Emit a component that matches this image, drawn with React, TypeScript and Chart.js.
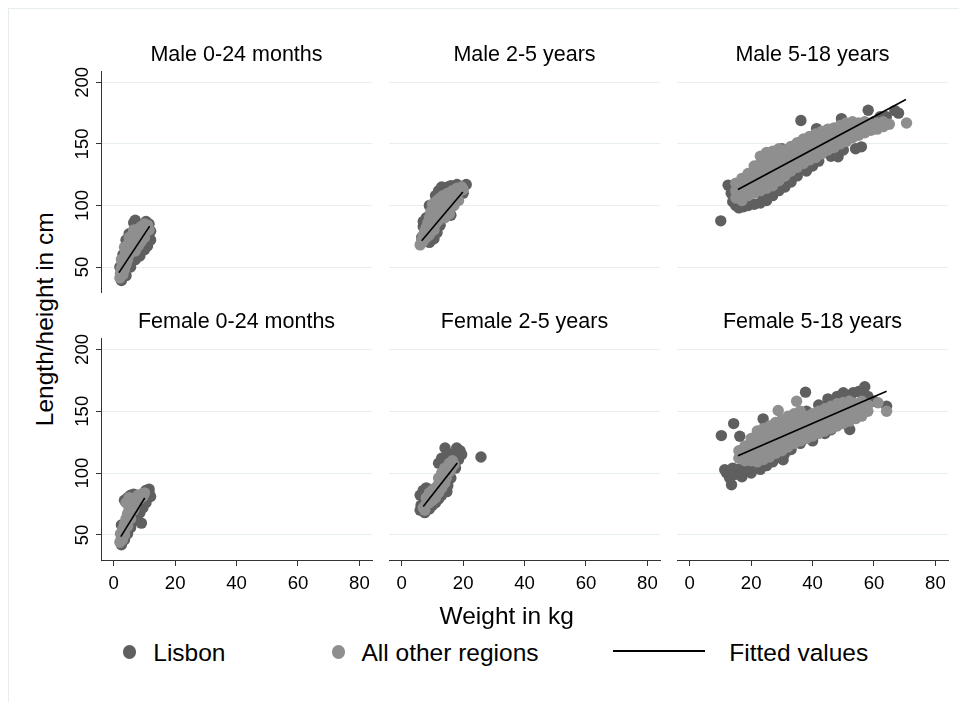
import React, { useEffect, useRef } from 'react';
import { Chart, registerables } from 'chart.js';

Chart.register(...registerables);

const FONT = "'Liberation Sans', Arial, Helvetica, sans-serif";

// ---------- text ----------
const panelTitles = [
  'Male 0-24 months',
  'Male 2-5 years',
  'Male 5-18 years',
  'Female 0-24 months',
  'Female 2-5 years',
  'Female 5-18 years',
];
const seriesLabels = ['Lisbon', 'All other regions', 'Fitted values'];
const xAxisTitle = 'Weight in kg';
const yAxisTitle = 'Length/height in cm';
const xTickValues = [0, 20, 40, 60, 80];
const yTickValues = [50, 100, 150, 200];
const xMin = -4.15;
const xMax = 84.1;
const yMin = 29.7;
const yMax = 209.2;

// ---------- data: [weight kg, length/height cm] ----------
const lisbonMale0to24 = [
  [2.5, 39], [2, 50], [3, 60], [4, 43], [4, 72], [5, 77], [5.5, 50], [6.5, 86], [7, 88], [7, 56],
  [8.5, 59], [9, 84], [10, 64], [10.5, 87], [11, 67], [11.5, 85], [12, 72], [12, 79], [3.5, 47], [6, 62],
];
const otherMale0to24 = [
  [2, 41], [2.2, 45], [2.5, 49], [2.8, 53], [3, 44], [3.2, 57], [3.5, 48], [3.8, 61], [4, 52], [4.2, 65],
  [4.5, 56], [4.8, 69], [5, 60], [5.3, 72], [5.5, 64], [6, 76], [6, 67], [6.5, 71], [7, 78], [7, 63],
  [7.5, 74], [8, 81], [8, 67], [8.5, 77], [9, 83], [9, 71], [9.5, 80], [10, 85], [10, 74], [10.5, 82],
  [11, 84], [11.5, 80], [5, 74], [3.5, 66], [6.5, 80], [2.5, 56], [4.5, 62], [8, 72],
];
const fitMale0to24 = [[1.7, 45.4], [11.7, 83.2]];

const lisbonMale2to5 = [
  [6.5, 74], [7, 83], [7, 87], [8, 90], [9, 70], [10.5, 73], [11.5, 78], [12, 112], [13, 115], [14, 113],
  [15, 115], [16, 116], [17, 115], [18, 117], [21, 117], [20, 110], [16, 92], [9, 100], [11, 108], [12.5, 84],
];
const otherMale2to5 = [
  [6, 68], [6.5, 72], [7, 76], [7.5, 79], [8, 82], [8.5, 86], [9, 90], [9.5, 95], [10, 101], [10.3, 98],
  [10.5, 92], [11, 96], [11.5, 104], [12, 100], [12.5, 106], [13, 103], [13.5, 108], [14, 99], [14.5, 104], [15, 110],
  [15.5, 93], [16, 106], [16.5, 112], [17, 100], [17.5, 109], [18, 114], [18.5, 104], [19, 112], [19.5, 115], [20, 113],
  [12, 88], [13, 94], [10.5, 80], [9, 76], [8, 74], [7, 71], [11, 85], [14, 90],
];
const fitMale2to5 = [[6.5, 71.3], [19.9, 111]];

const lisbonMale5to18 = [
  [10.1, 87.5], [12.5, 116.5], [13.5, 110], [14, 103], [15, 100], [16, 98], [17.5, 99], [19, 100], [21, 101], [23, 102],
  [25, 104], [24, 108], [27, 108], [29, 112], [31, 115], [33, 119], [35, 124], [34, 129], [38, 128], [40, 132],
  [42, 136], [46, 140], [48.3, 139.5], [50, 145], [54, 146], [55.9, 147.6], [36.2, 169], [58.1, 177.3], [62, 172], [66.8, 177],
  [68, 175], [64, 172], [49.4, 170.5], [41.3, 162.4], [30, 146], [22, 130], [20, 125], [26, 140], [56, 165], [60, 168],
];
const otherMale5to18 = [
  [15, 106], [15, 112], [15, 118], [17, 104], [17, 110], [17, 116], [17, 122], [19, 108], [19, 114], [19, 120],
  [19, 126], [21, 110], [21, 117], [21, 124], [21, 132], [23, 112], [23, 119], [23, 126], [23, 134], [23, 140],
  [25, 114], [25, 121], [25, 128], [25, 136], [25, 143], [27, 116], [27, 124], [27, 131], [27, 138], [27, 144],
  [29, 120], [29, 127], [29, 134], [29, 141], [29, 146], [31, 124], [31, 131], [31, 138], [31, 145], [33, 128],
  [33, 135], [33, 142], [33, 148], [35, 131], [35, 138], [35, 145], [35, 151], [37, 134], [37, 141], [37, 148],
  [37, 154], [39, 137], [39, 144], [39, 150], [39, 156], [41, 139], [41, 146], [41, 152], [41, 158], [43, 142],
  [43, 149], [43, 155], [43, 160], [45, 145], [45, 151], [45, 157], [45, 162], [47, 147], [47, 153], [47, 159],
  [47, 163], [49, 150], [49, 156], [49, 161], [49, 165], [51, 152], [51, 158], [51, 163], [51, 167], [53, 155],
  [53, 160], [53, 165], [53, 168], [55, 157], [55, 162], [55, 167], [57, 159], [57, 164], [57, 168], [59, 161],
  [59, 166], [61, 162], [61, 167], [63, 164], [63, 168], [65, 166], [70.6, 167],
];
const fitMale5to18 = [[15.7, 113], [70.4, 186]];

const lisbonFemale0to24 = [
  [2.5, 42], [3.5, 46], [4.5, 51], [5.5, 56], [6.5, 61], [7.5, 65], [8.5, 68], [9, 59.5], [9.5, 72], [10.5, 76],
  [11, 80], [11.5, 84], [12, 81], [11.5, 87], [10.5, 86], [4.5, 80], [5.5, 82], [6.5, 83], [3.5, 78], [2.5, 58],
];
const otherFemale0to24 = [
  [2, 44], [2.5, 47], [2.2, 51], [3, 50], [3, 55], [3.5, 53], [3.5, 59], [4, 57], [4, 63], [4.5, 61],
  [4.5, 67], [5, 65], [5, 71], [5.5, 69], [5.5, 75], [6, 73], [6, 79], [6.5, 77], [7, 80], [7.5, 78],
  [8, 82], [8.5, 79], [9, 83], [9.5, 81], [10, 84], [7, 74], [6.5, 70], [5.5, 63], [4.5, 57], [3.5, 50],
  [2.8, 46], [4, 76], [5, 80],
];
const fitFemale0to24 = [[2.3, 48.6], [10.1, 79.8]];

const lisbonFemale2to5 = [
  [6, 70], [6.3, 74], [6, 82], [7, 86], [7.5, 68], [8, 88], [9, 71], [10, 74], [11, 76], [12, 79],
  [13, 82], [14.7, 85], [15, 90], [14, 112], [14.1, 120.3], [15, 116], [16, 114], [17.9, 120.3], [19, 118], [19.5, 115],
  [18.5, 111], [17.5, 104], [25.8, 113], [13, 112], [12, 108], [16, 96],
];
const otherFemale2to5 = [
  [7, 72], [8, 75], [8.5, 79], [9.5, 78], [10, 82], [10.5, 86], [11, 80], [11.5, 89], [12, 84], [12.5, 92],
  [13, 88], [13.5, 96], [14, 92], [14.5, 100], [15, 104], [15.5, 108], [16, 103], [17, 107], [16.5, 110], [9, 84],
  [12, 96], [13, 100], [8, 80], [9, 76], [10, 78], [11, 88], [12, 91], [14, 104], [14.5, 96], [15.5, 101],
  [16, 108], [11.5, 84], [10, 86], [7.5, 70],
];
const fitFemale2to5 = [[7, 73], [18.1, 108.1]];

const lisbonFemale5to18 = [
  [10.3, 130.3], [14.3, 140], [13.6, 90.5], [11.4, 102.7], [16.3, 129.7], [23.9, 143.8], [37.7, 165.4], [52.1, 135.2], [57, 169.8], [53.2, 164.9],
  [30.4, 110.8], [64.1, 154], [12, 100], [13, 96], [14, 104], [15, 99], [16, 103], [17, 97], [18, 101], [19, 105],
  [20, 100], [21, 104], [23, 103], [25, 106], [27, 109], [29, 113], [31, 116], [33, 119], [22, 132], [26, 135],
  [30, 140], [34, 145], [38, 150], [42, 155], [45, 160], [48, 162], [50, 165], [55, 166], [58, 162], [60, 158],
  [40, 126], [44, 132], [46, 135], [36, 124], [24, 126], [18, 118],
];
const otherFemale5to18 = [
  [16, 112], [16, 118], [18, 110], [18, 116], [18, 122], [20, 110], [20, 116], [20, 122], [20, 128], [22, 109],
  [22, 115], [22, 121], [22, 127], [22, 134], [24, 111], [24, 117], [24, 123], [24, 129], [24, 136], [26, 113],
  [26, 119], [26, 125], [26, 131], [26, 138], [28, 116], [28, 122], [28, 128], [28, 134], [28, 141], [28.8, 150.6],
  [30, 118], [30, 124], [30, 130], [30, 136], [30, 143], [32, 121], [32, 127], [32, 133], [32, 139], [32, 146],
  [34, 124], [34, 130], [34, 136], [34, 142], [34, 148], [34.8, 158], [36, 126], [36, 132], [36, 138], [36, 144],
  [36, 150], [38, 128], [38, 134], [38, 140], [38, 146], [40, 130], [40, 136], [40, 142], [40, 148], [42, 132],
  [42, 138], [42, 144], [42, 150], [44, 134], [44, 140], [44, 146], [44, 152], [46, 136], [46, 142], [46, 148],
  [46, 154], [48, 138], [48, 144], [48, 150], [48, 156], [50, 140], [50, 146], [50, 152], [50, 157], [52, 142],
  [52, 148], [52, 154], [52, 158], [54, 144], [54, 150], [54, 156], [56, 146], [56, 152], [56, 158], [58, 150],
  [58, 155], [61.3, 156.8], [64.1, 150],
];
const fitFemale5to18 = [[15.7, 114], [64.1, 166.2]];

const lisbonByPanel = [lisbonMale0to24, lisbonMale2to5, lisbonMale5to18, lisbonFemale0to24, lisbonFemale2to5, lisbonFemale5to18];
const otherByPanel = [otherMale0to24, otherMale2to5, otherMale5to18, otherFemale0to24, otherFemale2to5, otherFemale5to18];
const fitByPanel = [fitMale0to24, fitMale2to5, fitMale5to18, fitFemale0to24, fitFemale2to5, fitFemale5to18];

// ---------- styling / layout ----------
const LISBON_COLOR = '#5f5f5f';
const OTHER_COLOR = '#8f8f8f';
const GRID_COLOR = '#e6eef2';
const AXIS_COLOR = '#333333';
const OFFSET = 8; // root div sits at the body margin
const PLOT_LEFT = [101, 389, 677];
const PLOT_W = 271;
const PLOT_TOP = [71, 338];
const PLOT_BOTTOM = [292, 560];
const PAD = { left: 40, right: 20, top: 40, bottom: 40 };
const TITLE_SIZE = 21.5;
const TICK_SIZE = 18.6;
const BIG_SIZE = 24.5;
const POINT_R = 5.7;

const rotatedYLabels = {
  id: 'rotatedYLabels',
  afterDraw(chart: any) {
    const s = chart.scales.y;
    const ctx = chart.ctx;
    ctx.save();
    ctx.font = `${TICK_SIZE}px ${FONT}`;
    ctx.fillStyle = '#000';
    ctx.textAlign = 'center';
    ctx.textBaseline = 'alphabetic';
    s.ticks.forEach((t: any) => {
      const y = s.getPixelForValue(t.value);
      ctx.save();
      ctx.translate(s.left - 12.7, y);
      ctx.rotate(-Math.PI / 2);
      ctx.fillText(String(t.value), 0, 0);
      ctx.restore();
    });
    ctx.restore();
  },
};

function Panel({ idx }: { idx: number }) {
  const ref = useRef<HTMLCanvasElement>(null);
  const col = idx % 3;
  const row = Math.floor(idx / 3);
  const w = PLOT_W + PAD.left + PAD.right;
  const h = PLOT_BOTTOM[row] - PLOT_TOP[row] + PAD.top + PAD.bottom;

  useEffect(() => {
    const titleLine = TITLE_SIZE * 1.2;
    const showX = row === 1;
    const chart = new Chart(ref.current as HTMLCanvasElement, {
      type: 'scatter',
      data: {
        datasets: [
          {
            label: seriesLabels[2],
            type: 'line',
            data: fitByPanel[idx] as any,
            borderColor: '#000',
            borderWidth: 1.6,
            pointRadius: 0,
            showLine: true,
            fill: false,
            order: 0,
          } as any,
          {
            label: seriesLabels[1],
            data: otherByPanel[idx] as any,
            backgroundColor: OTHER_COLOR,
            pointRadius: POINT_R,
            pointBorderWidth: 0,
            order: 1,
          },
          {
            label: seriesLabels[0],
            data: lisbonByPanel[idx] as any,
            backgroundColor: LISBON_COLOR,
            pointRadius: POINT_R,
            pointBorderWidth: 0,
            order: 2,
          },
        ],
      },
      options: {
        responsive: false,
        animation: false,
        devicePixelRatio: 1,
        layout: { padding: { left: PAD.left, right: PAD.right, top: 0, bottom: showX ? 0 : PAD.bottom } },
        plugins: {
          legend: { display: false },
          tooltip: { enabled: false },
          title: {
            display: true,
            text: panelTitles[idx],
            fullSize: false,
            color: '#000',
            font: { size: TITLE_SIZE, family: FONT, weight: 'normal', lineHeight: 1.2 },
            padding: { top: PAD.top - titleLine - 2.6, bottom: 2.6 },
          },
        },
        scales: {
          x: {
            type: 'linear',
            min: xMin,
            max: xMax,
            display: showX,
            position: 'bottom',
            afterFit: (s: any) => { s.height = showX ? PAD.bottom : 0; },
            afterBuildTicks: (s: any) => { s.ticks = xTickValues.map((v) => ({ value: v })); },
            grid: { display: true, drawOnChartArea: false, drawTicks: true, tickLength: 6, tickColor: AXIS_COLOR, tickWidth: 1 },
            border: { display: true, color: AXIS_COLOR, width: 1 },
            ticks: { color: '#000', font: { size: TICK_SIZE, family: FONT }, padding: 7, maxRotation: 0, minRotation: 0, autoSkip: false },
          },
          y: {
            type: 'linear',
            min: yMin,
            max: yMax,
            position: 'left',
            afterFit: (s: any) => { s.width = 0; },
            afterBuildTicks: (s: any) => { s.ticks = yTickValues.map((v) => ({ value: v })); },
            grid: { color: GRID_COLOR, lineWidth: 1, drawTicks: col === 0, tickLength: 5, tickColor: AXIS_COLOR, tickWidth: 1 },
            border: { display: col === 0, color: AXIS_COLOR, width: 1 },
            ticks: { display: false },
          },
        },
      } as any,
      plugins: col === 0 ? [rotatedYLabels] : [],
    });
    return () => chart.destroy();
  }, [idx]);

  return (
    <canvas
      ref={ref}
      width={w}
      height={h}
      style={{
        position: 'absolute',
        left: PLOT_LEFT[col] - PAD.left - OFFSET,
        top: PLOT_TOP[row] - PAD.top - OFFSET,
        width: w,
        height: h,
      }}
    />
  );
}

const textStyle: React.CSSProperties = {
  position: 'absolute',
  fontFamily: FONT,
  fontSize: BIG_SIZE,
  lineHeight: `${BIG_SIZE}px`,
  color: '#000',
  whiteSpace: 'nowrap',
};

export default function App() {
  const baselineShift = 0.8465 * BIG_SIZE;
  return (
    <div style={{ position: 'relative', width: 951, height: 694, overflow: 'hidden', background: '#fff' }}>
      <div
        style={{
          position: 'absolute', left: 0, top: 0, width: 951, height: 694, boxSizing: 'border-box',
          borderLeft: '1px solid #e6edf0', borderTop: '1px solid #e6edf0',
        }}
      />
      {[0, 1, 2, 3, 4, 5].map((i) => <Panel key={i} idx={i} />)}

      {/* y axis title */}
      <div
        style={{
          ...textStyle,
          left: 44.8 - 150 - OFFSET,
          top: 319 - BIG_SIZE / 2 - OFFSET,
          width: 300,
          height: BIG_SIZE,
          textAlign: 'center',
          transform: 'rotate(-90deg)',
        }}
      >
        {yAxisTitle}
      </div>

      {/* x axis title */}
      <div style={{ ...textStyle, left: 506.7 - 150 - OFFSET, top: 624.3 - baselineShift - OFFSET, width: 300, textAlign: 'center' }}>
        {xAxisTitle}
      </div>

      {/* legend */}
      <div style={{ position: 'absolute', left: 129.3 - 6.7 - OFFSET, top: 652 - 6.7 - OFFSET, width: 13.4, height: 13.4, borderRadius: '50%', background: LISBON_COLOR }} />
      <div style={{ ...textStyle, left: 153.3 - OFFSET, top: 661.7 - baselineShift - OFFSET }}>{seriesLabels[0]}</div>

      <div style={{ position: 'absolute', left: 338.3 - 6.7 - OFFSET, top: 652 - 6.7 - OFFSET, width: 13.4, height: 13.4, borderRadius: '50%', background: OTHER_COLOR }} />
      <div style={{ ...textStyle, left: 361.5 - OFFSET, top: 661.7 - baselineShift - OFFSET }}>{seriesLabels[1]}</div>

      <div style={{ position: 'absolute', left: 613.3 - OFFSET, top: 649.7 - OFFSET, width: 92, height: 2, background: '#000' }} />
      <div style={{ ...textStyle, left: 729.3 - OFFSET, top: 661.7 - baselineShift - OFFSET }}>{seriesLabels[2]}</div>
    </div>
  );
}
